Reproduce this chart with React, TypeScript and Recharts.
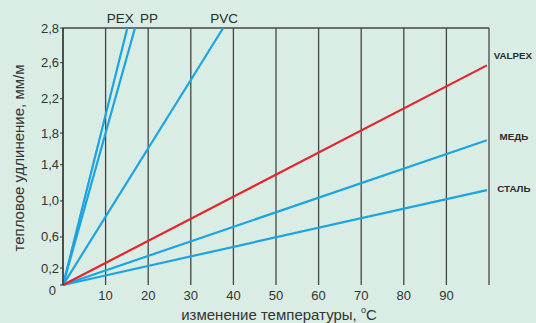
import React from "react";
import { CartesianGrid, Label, Line, LineChart, ReferenceLine, XAxis, YAxis } from "recharts";

// temperature change, °C
const xTicks = [0, 10, 20, 30, 40, 50, 60, 70, 80, 90, 100];
// elongation axis labels, mm/m (the original axis is not evenly spaced)
const yTicks = [0, 0.2, 0.6, 1.0, 1.4, 1.8, 2.2, 2.6, 2.8];

// each line: [temperature, elongation] at start and end
const pexTemp = [0, 15.1];
const pexElong = [0, 2.8];
const ppTemp = [0, 16.9];
const ppElong = [0, 2.8];
const pvcTemp = [0, 37.6];
const pvcElong = [0, 2.8];
const valpexTemp = [0, 99.5];
const valpexElong = [0, 2.57];
const copperTemp = [0, 99.5];
const copperElong = [0, 1.71];
const steelTemp = [0, 99.5];
const steelElong = [0, 1.12];

const toPoints = (t: number[], e: number[]) => t.map((v, i) => ({ t: v, e: e[i] }));

// where each y label sits along the axis height (0 = bottom, 1 = top)
const yTickFractions = [0, 0.066, 0.187, 0.327, 0.468, 0.591, 0.725, 0.865, 1];

// piecewise linear scale, shaped like a d3 scale so Recharts can use it
function piecewiseScale(knots: number[], fracs: number[], dom = [0, 1], rng = [0, 1]): any {
  let domain = dom;
  let range = rng;
  const s: any = (v: number) => {
    let i = 0;
    while (i < knots.length - 2 && v > knots[i + 1]) i++;
    const f = fracs[i] + ((v - knots[i]) / (knots[i + 1] - knots[i])) * (fracs[i + 1] - fracs[i]);
    return range[0] + f * (range[1] - range[0]);
  };
  s.domain = (d?: number[]) => {
    if (d === undefined) return domain;
    domain = d;
    return s;
  };
  s.range = (r?: number[]) => {
    if (r === undefined) return range;
    range = r;
    return s;
  };
  s.copy = () => piecewiseScale(knots, fracs, domain, range);
  s.ticks = () => knots;
  s.clamp = () => s;
  s.invert = (p: number) => {
    const f = (p - range[0]) / (range[1] - range[0]);
    let i = 0;
    while (i < fracs.length - 2 && f > fracs[i + 1]) i++;
    return knots[i] + ((f - fracs[i]) / (fracs[i + 1] - fracs[i])) * (knots[i + 1] - knots[i]);
  };
  return s;
}

const BLUE = "#1ba4e2";
const RED = "#e8232b";
const INK = "#2b2b2b";
const FONT = "'Liberation Sans', Arial, Helvetica, sans-serif";

const series = [
  { name: "PEX", data: toPoints(pexTemp, pexElong), color: BLUE, dx: -7, dy: -10, top: true },
  { name: "PP", data: toPoints(ppTemp, ppElong), color: BLUE, dx: 14, dy: -10, top: true },
  { name: "PVC", data: toPoints(pvcTemp, pvcElong), color: BLUE, dx: 1, dy: -10, top: true },
  { name: "СТАЛЬ", data: toPoints(steelTemp, steelElong), color: BLUE, dx: 27, dy: -2, top: false },
  { name: "МЕДЬ", data: toPoints(copperTemp, copperElong), color: BLUE, dx: 27, dy: -4, top: false },
  { name: "VALPEX", data: toPoints(valpexTemp, valpexElong), color: RED, dx: 26, dy: -10, top: false },
];

const endLabel = (name: string, dx: number, dy: number, top: boolean) => (p: any) => {
  if (p.index !== 1) return null;
  return (
    <text
      x={p.x + dx}
      y={p.y + dy}
      textAnchor="middle"
      dominantBaseline="central"
      fontFamily={FONT}
      fontSize={top ? 13.5 : 9.8}
      fontWeight={top ? 400 : 700}
      fill={INK}
    >
      {name}
    </text>
  );
};

const YTick = (p: any) => {
  const v = p.payload.value;
  const isZero = v === 0;
  return (
    <text
      x={isZero ? p.x - 3 : p.x}
      y={isZero ? p.y + 5 : p.y}
      textAnchor="end"
      dominantBaseline="central"
      fontFamily={FONT}
      fontSize={13}
      fill="#333"
    >
      {isZero ? "0" : v.toFixed(1).replace(".", ",")}
    </text>
  );
};

const yScale = piecewiseScale(yTicks, yTickFractions);

export default function App() {
  return (
    <div style={{ width: 536, height: 323, background: "#d9ede5" }}>
      <style>{`body{margin:0}`}</style>
      <LineChart width={536} height={323} margin={{ top: 28, right: 47, bottom: 0, left: 0 }}>
        <CartesianGrid horizontal={false} stroke="#454545" strokeWidth={1.3} />
        <XAxis
          type="number"
          dataKey="t"
          domain={[0, 100]}
          ticks={xTicks}
          interval={0}
          height={38}
          axisLine={false}
          tickLine={false}
          tickSize={4}
          tick={{ fill: "#333", fontSize: 13, fontFamily: FONT }}
          tickFormatter={(v) => (v === 0 || v === 100 ? "" : String(v))}
        >
          <Label
            content={(p: any) => (
              <text
                x={p.viewBox.x + p.viewBox.width / 2 + 3}
                y={314}
                textAnchor="middle"
                dominantBaseline="central"
                fontFamily={FONT}
                fontSize={15}
                fill="#333"
              >
                изменение температуры,{" "}
                <tspan fontSize={9} dy={-4}>
                  o
                </tspan>
                <tspan dy={4}>C</tspan>
              </text>
            )}
          />
        </XAxis>
        <YAxis
          type="number"
          dataKey="e"
          domain={[0, 2.8]}
          scale={yScale}
          ticks={yTicks}
          interval={0}
          width={63}
          axisLine={{ stroke: "#333", strokeWidth: 1.3 }}
          tickLine={{ stroke: "#333" }}
          tickSize={3}
          tickMargin={1}
          tick={<YTick />}
        >
          <Label
            content={() => (
              <text
                x={18}
                y={158}
                transform="rotate(-90 18 158)"
                textAnchor="middle"
                dominantBaseline="central"
                fontFamily={FONT}
                fontSize={15}
                fill="#333"
              >
                тепловое удлинение, мм/м
              </text>
            )}
          />
        </YAxis>
        <ReferenceLine y={2.8} stroke="#454545" strokeWidth={1.3} />
        {series.map((s) => (
          <Line
            key={s.name}
            data={s.data}
            dataKey="e"
            type="linear"
            stroke={s.color}
            strokeWidth={2.2}
            dot={false}
            activeDot={false}
            isAnimationActive={false}
            label={endLabel(s.name, s.dx, s.dy, s.top)}
          />
        ))}
      </LineChart>
    </div>
  );
}
